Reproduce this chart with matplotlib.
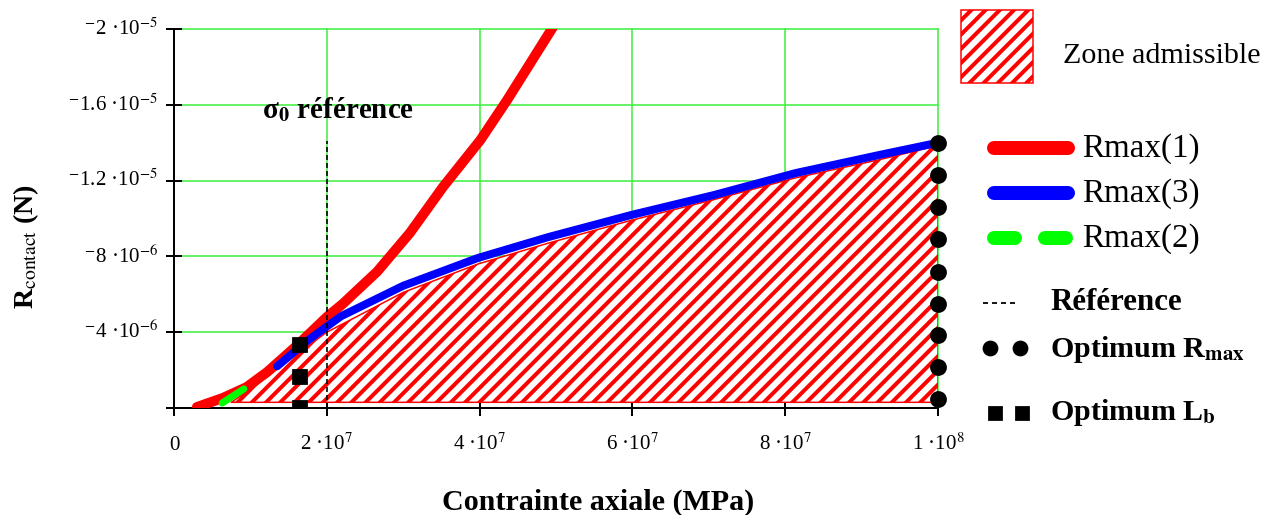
import matplotlib
matplotlib.use("Agg")
import matplotlib.pyplot as plt
from matplotlib.lines import Line2D
from matplotlib.patches import Rectangle

# taille de l'image de sortie (pixels)
W, H = 1271, 515
DPI = 128


def px(v):
    '''Convertit une taille en pixels en points.'''
    return v * 72 / DPI


def fx(x):
    return x / W


def fy(y):
    return 1 - y / H


# --- Données ---
# Rmax(1) (rouge)
rmax1_x = [3.0e6, 6.4e6, 9.5e6, 1.22e7, 1.61e7, 2.0e7, 2.21e7, 2.66e7, 3.09e7, 3.52e7, 4.01e7, 4.36e7, 4.96e7]
rmax1_y = [-0.05e-6, -0.53e-6, -1.1e-6, -1.9e-6, -3.3e-6, -4.8e-6, -5.5e-6, -7.2e-6, -9.25e-6,
           -1.166e-5, -1.414e-5, -1.625e-5, -2.01e-5]

# Rmax(3) (bleu)
rmax3_x = [1.35e7, 1.73e7, 2.0e7, 2.19e7, 3.0e7, 3.98e7, 4.9e7, 5.98e7, 7.07e7, 8.14e7, 9.23e7, 1.0e8]
rmax3_y = [-2.2e-6, -3.5e-6, -4.3e-6, -4.85e-6, -6.45e-6, -7.92e-6, -9.02e-6, -1.018e-5,
           -1.124e-5, -1.24e-5, -1.335e-5, -1.40e-5]

# Rmax(2) (vert)
rmax2_x = [6.3e6, 9.5e6]
rmax2_y = [-0.26e-6, -1.1e-6]

# Zone admissible
zone_x = [7.5e6, 9.5e6, 1.22e7, 1.61e7, 2.0e7, 3.0e7, 3.98e7, 4.9e7, 5.98e7, 7.07e7, 8.14e7, 9.23e7, 1.0e8]
zone_top = [-0.3e-6, -0.85e-6, -1.65e-6, -2.85e-6, -4.0e-6, -6.1e-6, -7.6e-6, -8.7e-6, -9.9e-6,
            -1.1e-5, -1.215e-5, -1.31e-5, -1.385e-5]
zone_bottom = -0.3e-6

# Référence
ref_sigma = 2.0e7
ref_top = -1.41e-5

# Optimum Rmax (points)
opt_r_x = 1.0e8
opt_r_y = [-1.40e-5, -1.23e-5, -1.06e-5, -8.9e-6, -7.2e-6, -5.5e-6, -3.85e-6, -2.15e-6, -0.46e-6]

# Optimum Lb (carrés)
opt_lb_x = 1.65e7
opt_lb_y = [-3.3e-6, -1.64e-6, 0.0]

# Axes
x_ticks = [0, 2e7, 4e7, 6e7, 8e7, 1e8]
x_tick_labels = ['0', '2 ·10$^{7}$', '4 ·10$^{7}$', '6 ·10$^{7}$', '8 ·10$^{7}$', '1 ·10$^{8}$']
y_ticks = [0, -4e-6, -8e-6, -1.2e-5, -1.6e-5, -2e-5]
y_tick_labels = ['', '$^{-}$4 ·10$^{-6}$', '$^{-}$8 ·10$^{-6}$', '$^{-}$1.2 ·10$^{-5}$',
                 '$^{-}$1.6 ·10$^{-5}$', '$^{-}$2 ·10$^{-5}$']

plt.rcParams['font.family'] = ['Liberation Serif', 'DejaVu Serif']
plt.rcParams['mathtext.fontset'] = 'stix'
plt.rcParams['hatch.color'] = 'red'
plt.rcParams['hatch.linewidth'] = px(4)
plt.rcParams['lines.scale_dashes'] = False

GRID = '#44f044'
HATCH = '///'

fig = plt.figure(figsize=(W / DPI, H / DPI), dpi=DPI)
ax = fig.add_axes([fx(174), fy(408), (938 - 174) / W, (408 - 29) / H])

ax.set_xlim(0, 1e8)
ax.set_ylim(0, -2e-5)

ax.set_axisbelow(True)
ax.grid(True, color=GRID, lw=px(1.6))
for gl in ax.get_xgridlines() + ax.get_ygridlines():
    gl.set_clip_on(False)

# zone admissible hachurée
ax.fill_between(zone_x, zone_bottom, zone_top, facecolor='white', edgecolor='red',
                hatch=HATCH, linewidth=px(1.5), zorder=1)

ax.plot(rmax1_x, rmax1_y, color='red', lw=px(10), solid_capstyle='round', zorder=3)
ax.plot(rmax3_x, rmax3_y, color='blue', lw=px(8), solid_capstyle='round', zorder=4)
ax.plot(rmax2_x, rmax2_y, color='#00ff00', lw=px(7), dashes=(px(26), px(30)),
        dash_capstyle='round', zorder=4)

ax.plot([ref_sigma, ref_sigma], [0, ref_top], color='black', lw=px(1.6),
        dashes=(px(5), px(3)), zorder=5)

ax.plot([opt_r_x] * len(opt_r_y), opt_r_y, 'o', ms=px(15), color='black',
        clip_on=False, zorder=6)
ax.plot([opt_lb_x] * len(opt_lb_y), opt_lb_y, 's', ms=px(14), color='black', zorder=6)

ax.text(1.15e7, -1.53e-5, u'σ$_\\mathbf{0}$ référence', fontsize=px(29), fontweight='bold',
        va='baseline', zorder=7)

ax.set_xticks(x_ticks)
ax.set_xticklabels(x_tick_labels)
ax.set_yticks(y_ticks)
ax.set_yticklabels(y_tick_labels)
ax.tick_params(direction='inout', length=px(16), width=px(2), labelsize=px(21))
ax.tick_params(axis='x', pad=px(34))
ax.tick_params(axis='y', pad=px(8))
for lab in ax.get_xticklabels():
    lab.set_verticalalignment('baseline')
for lab in ax.get_yticklabels():
    lab.set_verticalalignment('center')

ax.spines[['top', 'right']].set_visible(False)
for s in ['left', 'bottom']:
    ax.spines[s].set_linewidth(px(2))

# titres des axes
fig.text(fx(598), fy(510), 'Contrainte axiale (MPa)', fontsize=px(30), fontweight='bold',
         ha='center', va='baseline')
fig.text(fx(26), fy(246), r'R$_{\mathrm{contact}}$ (N)', fontsize=px(28), fontweight='bold',
         rotation=90, ha='center', va='center')

# --- Légende ---
fig.add_artist(Rectangle((fx(961), fy(83)), (1033 - 961) / W, (83 - 10) / H,
                         transform=fig.transFigure, facecolor='white', edgecolor='red',
                         hatch=HATCH, lw=px(1.5)))
fig.text(fx(1063), fy(63), 'Zone admissible', fontsize=px(30), va='baseline')

fig.add_artist(Line2D([fx(994), fx(1068)], [fy(148)] * 2, transform=fig.transFigure,
                      color='red', lw=px(14), solid_capstyle='round'))
fig.text(fx(1082), fy(157), 'Rmax(1)', fontsize=px(33), va='baseline')

fig.add_artist(Line2D([fx(994), fx(1068)], [fy(193)] * 2, transform=fig.transFigure,
                      color='blue', lw=px(14), solid_capstyle='round'))
fig.text(fx(1082), fy(202), 'Rmax(3)', fontsize=px(33), va='baseline')

fig.add_artist(Line2D([fx(994), fx(1068)], [fy(238)] * 2, transform=fig.transFigure,
                      color='#00ff00', lw=px(14), dashes=(px(21), px(30)),
                      dash_capstyle='round'))
fig.text(fx(1082), fy(247), 'Rmax(2)', fontsize=px(33), va='baseline')

fig.add_artist(Line2D([fx(983), fx(1016)], [fy(303)] * 2, transform=fig.transFigure,
                      color='black', lw=px(1.8), dashes=(px(5), px(4))))
fig.text(fx(1050), fy(310), 'Référence', fontsize=px(31), fontweight='bold', va='baseline')

fig.add_artist(Line2D([fx(990), fx(1020)], [fy(348)] * 2, transform=fig.transFigure,
                      ls='none', marker='o', ms=px(14), color='black'))
fig.text(fx(1050), fy(357), r'Optimum R$_{\mathbf{max}}$', fontsize=px(30),
         fontweight='bold', va='baseline')

fig.add_artist(Line2D([fx(995), fx(1022)], [fy(413)] * 2, transform=fig.transFigure,
                      ls='none', marker='s', ms=px(13), color='black'))
fig.text(fx(1050), fy(420), r'Optimum L$_{\mathbf{b}}$', fontsize=px(30),
         fontweight='bold', va='baseline')

fig.savefig('out.png', dpi=DPI)
